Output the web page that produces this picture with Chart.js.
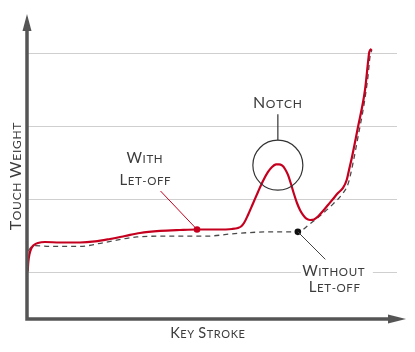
<!DOCTYPE html>
<html>
<head>
<meta charset="utf-8">
<script src="https://cdn.jsdelivr.net/npm/chart.js@4/dist/chart.umd.min.js"></script>
<style>
  html, body { margin: 0; padding: 0; background: #fff; }
  #c { display: block; }
</style>
</head>
<body>
<canvas id="c" width="415" height="352"></canvas>
<script>
// ---- Data (arbitrary units: key stroke 0–100, touch weight) ----
const withX = [0.19, 0.35, 0.68, 1.22, 1.89, 2.97, 4.86, 8.92, 14.32, 18.38, 22.43, 26.49, 30.54, 35.95, 41.35, 45.95, 51.35, 55.41, 57.03, 57.84, 58.65, 59.73, 61.08, 62.43, 63.78, 65.14, 66.22, 67.30, 68.11, 68.92, 69.73, 70.54, 71.35, 72.16, 72.97, 73.78, 74.59, 75.41, 76.49, 77.57, 78.65, 80.0, 81.35, 82.70, 84.05, 85.41, 86.4, 87.03, 87.84, 89.46, 91.35, 92.24, 92.51, 93.16];
const withY = [1.007, 1.137, 1.247, 1.329, 1.370, 1.397, 1.411, 1.404, 1.404, 1.418, 1.452, 1.493, 1.534, 1.562, 1.575, 1.582, 1.582, 1.589, 1.603, 1.623, 1.671, 1.781, 1.938, 2.096, 2.247, 2.370, 2.438, 2.473, 2.475, 2.459, 2.411, 2.329, 2.205, 2.068, 1.945, 1.849, 1.781, 1.733, 1.712, 1.719, 1.760, 1.836, 1.918, 2.0, 2.082, 2.151, 2.260, 2.397, 2.575, 2.986, 3.493, 3.904, 4.014, 4.055];
const withoutX = [0.35, 1.1, 2.2, 7.0, 14.3, 20.5, 29.7, 35.9, 48.1, 57.0, 66.2, 73.2, 76.5, 79.2, 82.7, 85.4, 86.8, 88.1, 89.5, 91.1, 92.2, 92.7, 93.2];
const withoutY = [1.29, 1.34, 1.36, 1.35, 1.35, 1.40, 1.48, 1.49, 1.49, 1.53, 1.55, 1.55, 1.66, 1.77, 1.93, 2.08, 2.21, 2.49, 2.86, 3.30, 3.70, 3.95, 4.04];
const letoffWith    = [45.95, 1.582]; // let-off point on the "with" curve
const letoffWithout = [73.2, 1.55];   // point on the "without" curve
const notchPoint    = [67.8, 2.47];   // notch peak
const gridValues = [1, 2, 3, 4];
const xTitle = 'Key Stroke';
const yTitle = 'Touch Weight';
const notchLabel = 'Notch';
const withLabel = ['With', 'Let-off'];
const withoutLabel = ['Without', 'Let-off'];

const FONT = 'Lato, "Open Sans", sans-serif';
const RED = '#c5001f';
const AXIS = '#555555';
const TEXT = '#3c3c3c';

function drawSC(ctx, text, cx, baseline, big, small, ls) {
  const segs = [...text].map(ch => {
    const isBig = ch !== ch.toLowerCase() && ch === ch.toUpperCase();
    return { t: ch.toUpperCase(), size: isBig ? big : small };
  });
  let w = 0;
  segs.forEach(s => { ctx.font = s.size + 'px ' + FONT; s.w = ctx.measureText(s.t).width; w += s.w + ls; });
  w -= ls;
  let x = cx - w / 2;
  ctx.textAlign = 'left';
  ctx.textBaseline = 'alphabetic';
  segs.forEach(s => { ctx.font = s.size + 'px ' + FONT; ctx.fillText(s.t, x, baseline); x += s.w + ls; });
  return w;
}

const decor = {
  id: 'decor',
  beforeDatasetsDraw(chart) {
    const { ctx, chartArea: a, scales: { y } } = chart;
    ctx.save();
    ctx.strokeStyle = '#cfcfcf';
    ctx.lineWidth = 1;
    gridValues.forEach(v => {
      const py = Math.round(y.getPixelForValue(v)) + 0.5;
      ctx.beginPath(); ctx.moveTo(a.left, py); ctx.lineTo(a.right, py); ctx.stroke();
    });
    ctx.restore();
  },
  afterDatasetsDraw(chart) {
    const { ctx, chartArea: a, scales: { x, y } } = chart;
    ctx.save();
    // axes with arrows
    ctx.strokeStyle = AXIS; ctx.fillStyle = AXIS; ctx.lineWidth = 3.5;
    ctx.beginPath();
    ctx.moveTo(a.left, 29); ctx.lineTo(a.left, a.bottom); ctx.lineTo(390, a.bottom);
    ctx.stroke();
    ctx.beginPath();
    ctx.moveTo(a.left, 14); ctx.lineTo(a.left - 4.5, 31); ctx.lineTo(a.left + 4.5, 31); ctx.closePath(); ctx.fill();
    ctx.beginPath();
    ctx.moveTo(406, a.bottom); ctx.lineTo(388, a.bottom - 4.5); ctx.lineTo(388, a.bottom + 4.5); ctx.closePath(); ctx.fill();

    ctx.fillStyle = TEXT;
    // axis titles
    drawSC(ctx, xTitle, 207.5, 337.5, 14.5, 11, 0.6);
    ctx.save();
    ctx.translate(20.5, 176.5); ctx.rotate(-Math.PI / 2);
    drawSC(ctx, yTitle, 0, 0, 16, 12, 0.7);
    ctx.restore();

    // Notch circle & label
    const nx = x.getPixelForValue(notchPoint[0]);
    const ny = y.getPixelForValue(notchPoint[1]) + 0.5;
    ctx.strokeStyle = '#333'; ctx.lineWidth = 1.2;
    ctx.beginPath(); ctx.arc(nx, ny, 25, 0, Math.PI * 2); ctx.stroke();
    ctx.beginPath(); ctx.moveTo(nx, ny - 25); ctx.lineTo(nx, ny - 51); ctx.stroke();
    ctx.fillStyle = TEXT;
    drawSC(ctx, notchLabel, nx - 0.5, 107.7, 16, 12, 0.7);

    // With let-off leader + label
    const wx = x.getPixelForValue(letoffWith[0]);
    const wy = y.getPixelForValue(letoffWith[1]);
    ctx.strokeStyle = RED; ctx.lineWidth = 1;
    ctx.beginPath(); ctx.moveTo(wx, wy); ctx.lineTo(wx - 36.5, wy - 38.5); ctx.stroke();
    ctx.fillStyle = TEXT;
    drawSC(ctx, withLabel[0], wx - 52.5, 163.3, 15, 11.5, 0.6);
    drawSC(ctx, withLabel[1], wx - 52, 185, 15, 11.5, 0.6);

    // Without let-off leader + label
    const ox = x.getPixelForValue(letoffWithout[0]);
    const oy = y.getPixelForValue(letoffWithout[1]);
    ctx.strokeStyle = '#444'; ctx.lineWidth = 1;
    ctx.beginPath(); ctx.moveTo(ox, oy); ctx.lineTo(ox + 27.5, oy + 27.5); ctx.stroke();
    ctx.fillStyle = '#fff';
    ctx.fillRect(ox + 3, 262, 72, 18);
    ctx.fillStyle = TEXT;
    drawSC(ctx, withoutLabel[0], ox + 35.5, 275.7, 15, 11.5, 0.6);
    drawSC(ctx, withoutLabel[1], ox + 36.5, 292, 15, 11.5, 0.6);
    ctx.restore();
  }
};

const toPts = (xs, ys) => xs.map((v, i) => ({ x: v, y: ys[i] }));

new Chart(document.getElementById('c'), {
  type: 'line',
  data: {
    datasets: [
      { label: 'Let-off point', data: [{ x: letoffWith[0], y: letoffWith[1] }], showLine: false,
        pointRadius: 3.3, pointBackgroundColor: RED, pointBorderWidth: 0 },
      { label: 'Without point', data: [{ x: letoffWithout[0], y: letoffWithout[1] }], showLine: false,
        pointRadius: 3.3, pointBackgroundColor: '#111', pointBorderWidth: 0 },
      { label: 'With Let-off', data: toPts(withX, withY), borderColor: RED, borderWidth: 2.2,
        pointRadius: 0, cubicInterpolationMode: 'monotone', fill: false },
      { label: 'Without Let-off', data: toPts(withoutX, withoutY), borderColor: '#4a4a4a', borderWidth: 1.3,
        borderDash: [5, 4], pointRadius: 0, cubicInterpolationMode: 'monotone', fill: false }
    ]
  },
  options: {
    responsive: false,
    animation: false,
    devicePixelRatio: 1,
    layout: { padding: { left: 27, right: 18, top: 15, bottom: 33 } },
    plugins: { legend: { display: false }, tooltip: { enabled: false } },
    scales: {
      x: { type: 'linear', min: 0, max: 100, display: false },
      y: { type: 'linear', min: 0.356, max: 4.52, display: false }
    },
    clip: false
  },
  plugins: [decor]
});
</script>
</body>
</html>
